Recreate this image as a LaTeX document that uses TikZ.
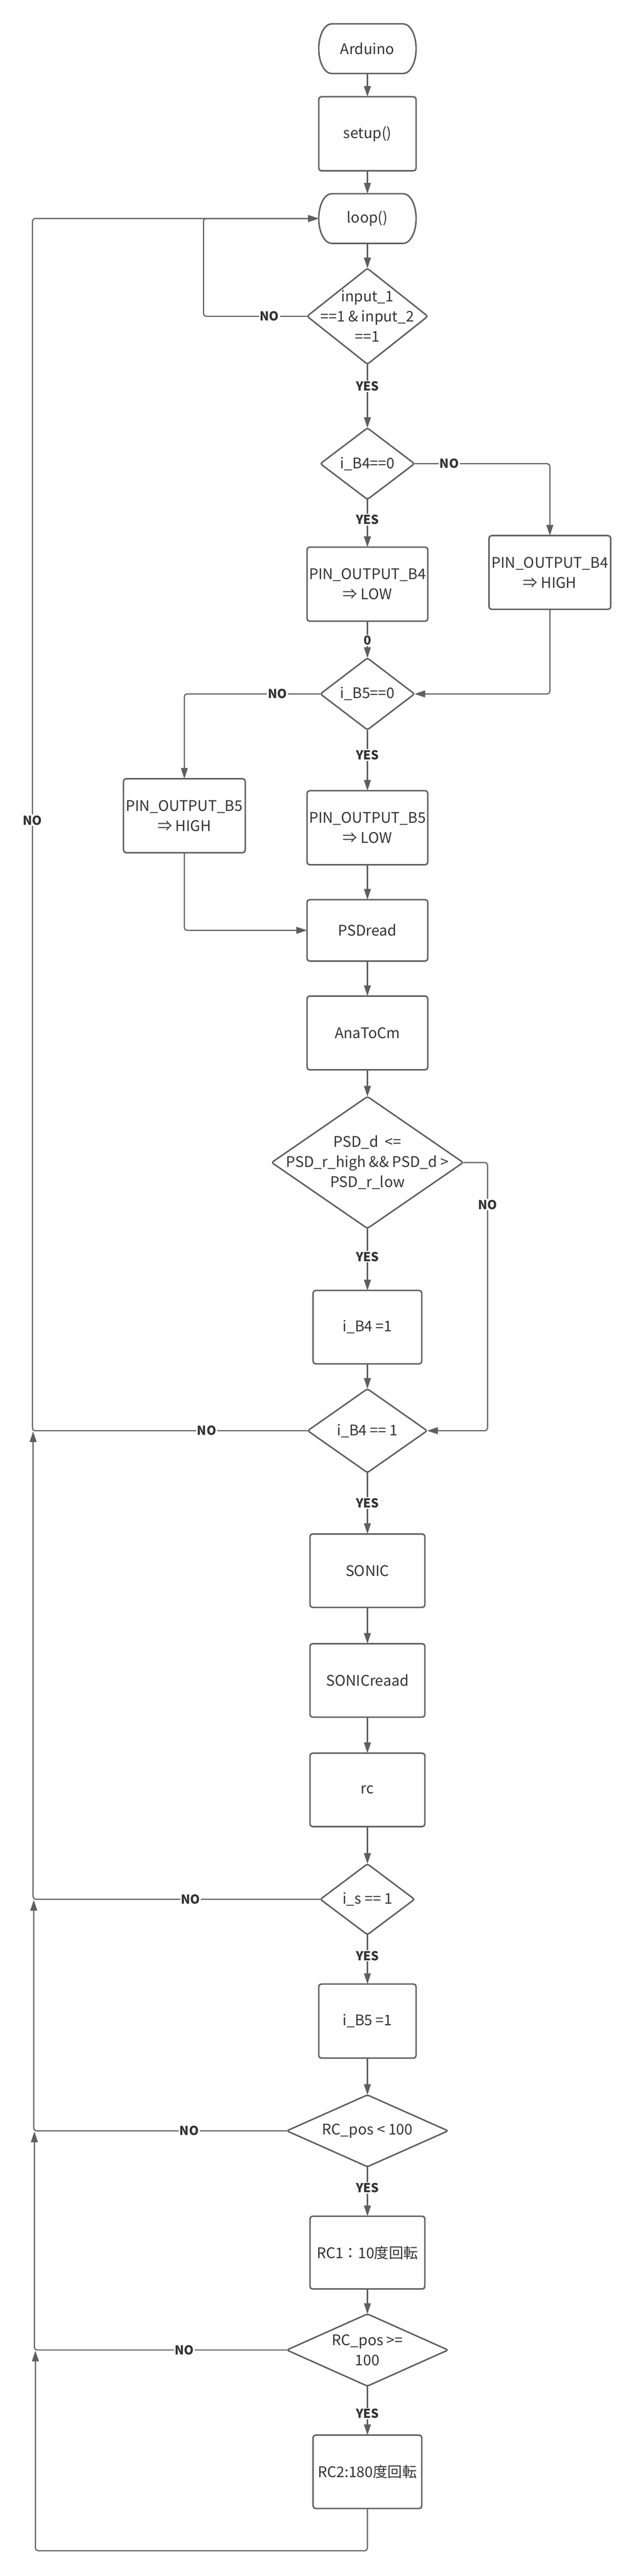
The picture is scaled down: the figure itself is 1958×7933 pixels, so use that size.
\documentclass[tikz,border=0pt]{standalone}
\usepackage{fontspec}
\setmainfont{Noto Sans CJK JP}
\usetikzlibrary{arrows.meta,shapes.geometric,calc}
\definecolor{ln}{HTML}{5E5E5E}
\definecolor{tx}{HTML}{333333}
\begin{document}
\begin{tikzpicture}[x=1pt,y=1pt,
  box/.style={draw=ln, line width=4.5pt, fill=white, rounded corners=8pt, inner sep=0pt, outer sep=0pt, text=tx, font=\fontsize{45}{62}\selectfont, align=center},
  dia/.style={draw=ln, line width=4.5pt, fill=white, shape=diamond, rounded corners=6pt, inner sep=0pt, outer sep=0pt},
  dtxt/.style={text=tx, font=\fontsize{45}{62}\selectfont, align=center, inner sep=0pt},
  stad/.style={inner sep=0pt, outer sep=0pt, text=tx, font=\fontsize{45}{62}\selectfont, minimum width=300pt, minimum height=153pt},
  stadline/.style={draw=ln, line width=4.5pt},
  conn/.style={draw=ln, line width=3.5pt, rounded corners=8pt},
  arr/.style={conn, -{Triangle[length=33pt,width=21pt]}},
  lab/.style={fill=white, text=tx, font=\fontsize{38}{38}\selectfont\bfseries, inner sep=3pt},
]
\fill[white] (0,0) rectangle (1958,-7933);
\useasboundingbox (0,0) rectangle (1958,-7933);

% nodes
\node[stad] (ard) at (1132,-150) {Arduino};
\draw[stadline] ($(ard.north west)+(40,0)$) -- ($(ard.north east)+(-40,0)$) arc[start angle=90,end angle=-90,x radius=40,y radius=76.5] -- ($(ard.south west)+(40,0)$) arc[start angle=270,end angle=90,x radius=40,y radius=76.5] -- cycle;
\node[box, minimum width=300pt, minimum height=228pt] (setup) at (1132,-412) {setup()};
\node[stad] (loop) at (1132,-673) {loop()};
\draw[stadline] ($(loop.north west)+(40,0)$) -- ($(loop.north east)+(-40,0)$) arc[start angle=90,end angle=-90,x radius=40,y radius=76.5] -- ($(loop.south west)+(40,0)$) arc[start angle=270,end angle=90,x radius=40,y radius=76.5] -- cycle;

\node[dia, minimum width=372pt, minimum height=295pt] (d1) at (1132,-974) {};
\node[dtxt] (d1t) at (d1) {input\_1\\==1 \& input\_2\\==1};
\node[dia, minimum width=290pt, minimum height=220pt] (d2) at (1132,-1428) {};
\node[dtxt] (d2t) at (d2) {i\_B4==0};
\node[box, minimum width=372pt, minimum height=228pt] (b4l) at (1132,-1799) {PIN\_OUTPUT\_B4\\⇒ LOW};
\node[box, minimum width=375pt, minimum height=227pt] (b4h) at (1694,-1763) {PIN\_OUTPUT\_B4\\⇒ HIGH};
\node[dia, minimum width=290pt, minimum height=221pt] (d3) at (1132,-2137) {};
\node[dtxt] (d3t) at (d3) {i\_B5==0};
\node[box, minimum width=375pt, minimum height=228pt] (b5h) at (568,-2512) {PIN\_OUTPUT\_B5\\⇒ HIGH};
\node[box, minimum width=372pt, minimum height=228pt] (b5l) at (1132,-2549) {PIN\_OUTPUT\_B5\\⇒ LOW};
\node[box, minimum width=372pt, minimum height=189pt] (psd) at (1132,-2865) {PSDread};
\node[box, minimum width=372pt, minimum height=227pt] (ana) at (1132,-3181) {AnaToCm};
\node[dia, minimum width=590pt, minimum height=406pt] (d4) at (1132,-3580) {};
\node[dtxt] (d4t) at (d4) {PSD\_d\ \ <=\\PSD\_r\_high \&\& PSD\_d >\\PSD\_r\_low};
\node[box, minimum width=335pt, minimum height=226pt] (ib4) at (1132,-4087) {i\_B4 =1};
\node[dia, minimum width=368pt, minimum height=258pt] (d5) at (1132,-4406) {};
\node[dtxt] (d5t) at (d5) {i\_B4 == 1};
\node[box, minimum width=354pt, minimum height=226pt] (son) at (1132,-4837) {SONIC};
\node[box, minimum width=354pt, minimum height=226pt] (sonr) at (1132,-5175) {SONICreaad};
\node[box, minimum width=354pt, minimum height=226pt] (rc) at (1132,-5512) {rc};
\node[dia, minimum width=290pt, minimum height=218pt] (d6) at (1132,-5849) {};
\node[dtxt] (d6t) at (d6) {i\_s == 1};
\node[box, minimum width=300pt, minimum height=228pt] (ib5) at (1132,-6224) {i\_B5 =1};
\node[dia, minimum width=497pt, minimum height=221pt] (d7) at (1132,-6562) {};
\node[dtxt] (d7t) at (d7) {RC\_pos < 100};
\node[box, minimum width=354pt, minimum height=224pt] (rc1) at (1132,-6937) {RC1：10度回転};
\node[dia, minimum width=497pt, minimum height=222pt] (d8) at (1132,-7237) {};
\node[dtxt] (d8t) at (d8) {RC\_pos >=\\100};
\node[box, minimum width=335pt, minimum height=226pt] (rc2) at (1132,-7612) {RC2:180度回転};

% connectors
\draw[arr] (ard.south) -- (setup.north);
\draw[arr] (setup.south) -- (loop.north);
\draw[arr] (loop.south) -- (d1.north);
\draw[arr] (d1.west) -| (627,-673) -- (loop.west);
\draw[arr] (d1.south) -- (d2.north);
\draw[arr] (d2.east) -| (b4h.north);
\draw[arr] (d2.south) -- (b4l.north);
\draw[arr] (b4l.south) -- (d3.north);
\draw[arr] (b4h.south) |- (d3.east);
\draw[arr] (d3.west) -| (b5h.north);
\draw[arr] (d3.south) -- (b5l.north);
\draw[arr] (b5l.south) -- (psd.north);
\draw[arr] (b5h.south) |- (psd.west);
\draw[arr] (psd.south) -- (ana.north);
\draw[arr] (ana.south) -- (d4.north);
\draw[arr] (d4.south) -- (ib4.north);
\draw[arr] (d4.east) -- (1502,-3580) -- (1502,-4406) -- (d5.east);
\draw[arr] (ib4.south) -- (d5.north);
\draw[arr] (d5.west) -| (100,-673) -- (loop.west);
\draw[arr] (d5.south) -- (son.north);
\draw[arr] (son.south) -- (sonr.north);
\draw[arr] (sonr.south) -- (rc.north);
\draw[arr] (rc.south) -- (d6.north);
\draw[arr] (d6.west) -| (102,-4408);
\draw[arr] (d6.south) -- (ib5.north);
\draw[arr] (ib5.south) -- (d7.north);
\draw[arr] (d7.west) -| (104,-5851);
\draw[arr] (d7.south) -- (rc1.north);
\draw[arr] (rc1.south) -- (d8.north);
\draw[arr] (d8.west) -| (106,-6564);
\draw[arr] (d8.south) -- (rc2.north);
\draw[arr] (rc2.south) |- (109,-7855) -- (109,-7239);

% labels
\node[lab] (l1) at (830,-974) {NO};
\node[lab] (l2) at (1132,-1190) {YES};
\node[lab] (l3) at (1384,-1428) {NO};
\node[lab] (l4) at (1132,-1600) {YES};
\node[lab] (l5) at (1132,-1972) {0};
\node[lab] (l6) at (855,-2137) {NO};
\node[lab] (l7) at (1132,-2325) {YES};
\node[lab] (l8) at (100,-2526) {NO};
\node[lab] (l9) at (1502,-3710) {NO};
\node[lab] (l10) at (1132,-3870) {YES};
\node[lab] (l11) at (637,-4406) {NO};
\node[lab] (l12) at (1132,-4629) {YES};
\node[lab] (l13) at (587,-5849) {NO};
\node[lab] (l14) at (1132,-6023) {YES};
\node[lab] (l15) at (583,-6562) {NO};
\node[lab] (l16) at (1132,-6738) {YES};
\node[lab] (l17) at (568,-7237) {NO};
\node[lab] (l18) at (1132,-7433) {YES};
\end{tikzpicture}
\end{document}
